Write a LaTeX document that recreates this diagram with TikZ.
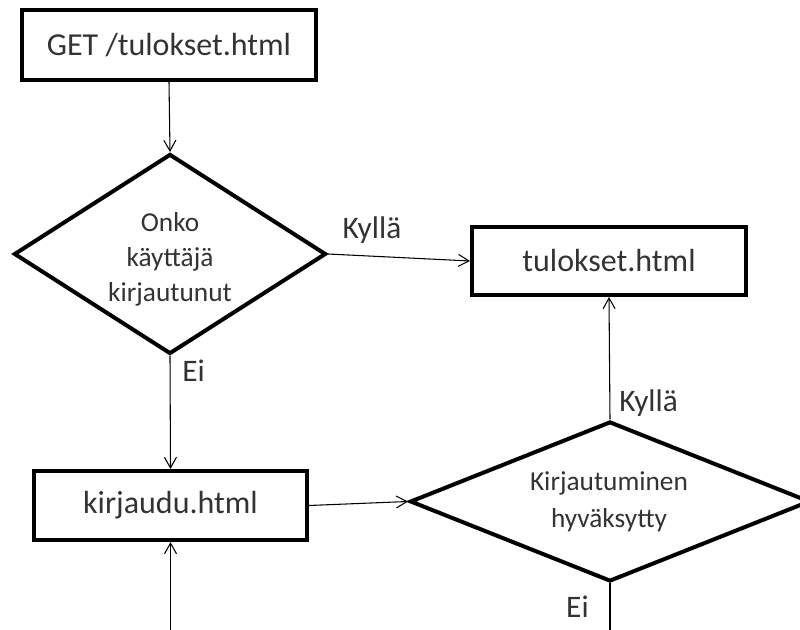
\documentclass[tikz,border=0pt]{standalone}
\usepackage{fontspec}
\setmainfont{Carlito}
\usetikzlibrary{arrows.meta,shapes.geometric}
\begin{document}
\begin{tikzpicture}[x=0.75pt,y=-0.75pt,
  page/.style={draw=black, line width=3pt, fill=white, inner sep=0pt,
    font=\fontsize{24}{29}\selectfont, text=black!80},
  choice/.style={diamond, draw=black, line width=3pt, fill=white, inner sep=0pt},
  question/.style={inner sep=0pt, align=center, text=black!80},
  flow/.style={draw=black, line width=0.8pt,
    -{Straight Barb[length=8pt,width=9pt,line width=0.8pt]}},
  plain/.style={draw=black, line width=0.8pt},
  answer/.style={inner sep=0pt, font=\fontsize{23.5}{28}\selectfont, text=black!80}]
\useasboundingbox (0,0) rectangle (800,630);
\begin{scope}
\clip (0,0) rectangle (800,630);

% pages
\node[page, minimum width=220.5pt, minimum height=52.5pt] (get) at (169,45) {GET /tulokset.html};
\node[page, minimum width=205.5pt, minimum height=51pt] (tul) at (609,261) {tulokset.html};
\node[page, minimum width=204.75pt, minimum height=51.75pt] (kir) at (170.5,505.5) {kirjaudu.html};

% decisions
\node[choice, minimum width=234pt, minimum height=150pt] (d1) at (170,254) {};
\node[question, font=\fontsize{20.5}{26.3}\selectfont] (d1q) at (170,259)
  {Onko\\käyttäjä\\kirjautunut};
\node[choice, minimum width=300pt, minimum height=120pt] (d2) at (610,501.5) {};
\node[question, font=\fontsize{20.5}{27.8}\selectfont] (d2q) at (609,502)
  {Kirjautuminen\\hyväksytty};

% loose ends at the lower edge
\coordinate (d2out) at (610,640);
\coordinate (kirin) at (170.5,640);

% connectors
\draw[flow] (get.south) -- (d1.north);
\draw[flow] (d1.east) -- (tul.west);
\draw[flow] (d1.south) -- (kir.north);
\draw[flow] (kir.east) -- (d2.west);
\draw[flow] (d2.north) -- (tul.south);
\draw[plain] (d2.south) -- (d2out);
\draw[flow] (kirin) -- (kir.south);

% answers
\node[answer, anchor=base] (y1) at (372,239) {Kyllä};
\node[answer, anchor=base west] (n1) at (182,382) {Ei};
\node[answer, anchor=base west] (y2) at (619,412) {Kyllä};
\node[answer, anchor=base east] (n2) at (589,618) {Ei};
\end{scope}
\end{tikzpicture}
\end{document}
